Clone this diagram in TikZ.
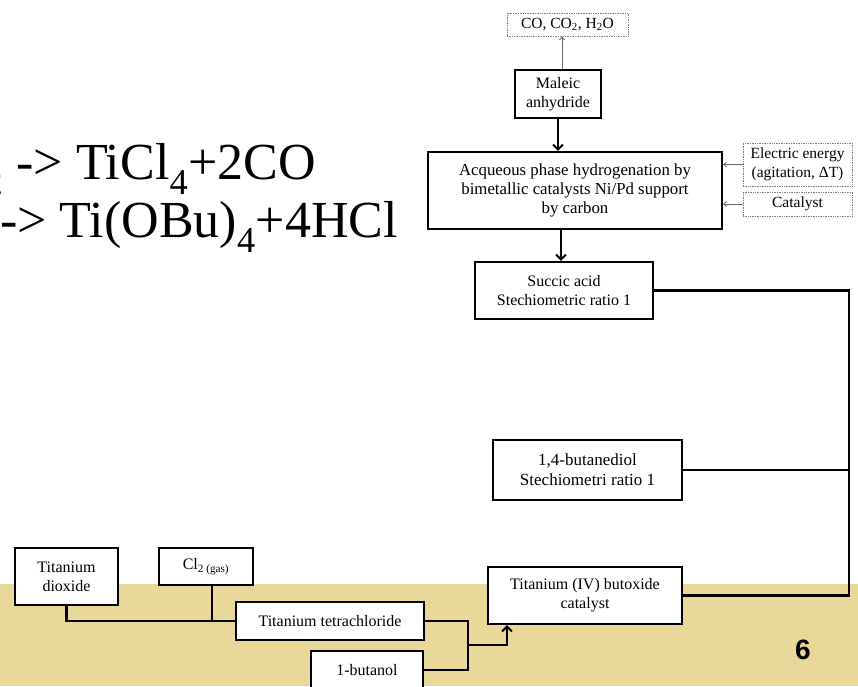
\documentclass[tikz,border=0pt]{standalone}
\usepackage{fontspec}
\setmainfont{Liberation Serif}
\newfontfamily\numfont{Liberation Sans}
\usetikzlibrary{arrows.meta}
\definecolor{slidetan}{RGB}{232,217,155}
\begin{document}
\begin{tikzpicture}[x=1pt,y=-1pt,
 box/.style={draw=black, line width=2.1pt, fill=white, align=center, inner sep=0pt, font=\fontsize{16}{19}\selectfont},
 dbox/.style={draw=gray, densely dotted, line width=0.7pt, fill=white, align=center, inner sep=0pt, font=\fontsize{15.5}{19}\selectfont},
 conn/.style={line width=2.1pt, black},
 barrow/.style={conn, -{Straight Barb[length=5pt,width=10pt,line width=2pt]}},
 tarrow/.style={line width=0.8pt, gray!80!black, -{Straight Barb[length=3pt,width=5pt]}},
 eq/.style={font=\fontsize{52}{60}\selectfont, inner sep=0pt, anchor=base east}
]
\useasboundingbox (0,0) rectangle (858,686);
\fill[white] (0,0) rectangle (858,686);
\fill[slidetan] (0,584) rectangle (858,686);

% equations (partly cut at the left edge)
\node[eq] (eq1) at (316,179) {\textsubscript{2} -> TiCl\textsubscript{4}+2CO};
\node[eq] (eq2) at (398,237) {-> Ti(OBu)\textsubscript{4}+4HCl};

% upper chain
\node[dbox, minimum width=121, minimum height=23] (co) at (567.5,24.5) {CO, CO\textsubscript{2}, H\textsubscript{2}O};
\node[box, minimum width=86, minimum height=48] (maleic) at (558,94) {Maleic\\anhydride};
\node[box, minimum width=294, minimum height=77, font=\fontsize{16.8}{19}\selectfont] (hydro) at (575,190.5) {Acqueous phase hydrogenation by\\bimetallic catalysts Ni/Pd support\\by carbon};
\node[dbox, minimum width=109, minimum height=43] (elec) at (797.5,164.5) {Electric energy\\(agitation, ΔT)};
\node[dbox, minimum width=109, minimum height=24] (cat) at (797.5,204) {Catalyst};
\node[box, minimum width=178, minimum height=57] (succ) at (564,290.5) {Succic acid\\Stechiometric ratio 1};
\node[box, minimum width=189, minimum height=60, font=\fontsize{17}{20}\selectfont] (bdo) at (587.5,470) {1,4-butanediol\\Stechiometri ratio 1};
\node[box, minimum width=194, minimum height=57] (tbo) at (585,595.5) {Titanium (IV) butoxide\\catalyst};

% lower chain
\node[box, minimum width=103, minimum height=57] (tio2) at (66.5,576.5) {Titanium\\dioxide};
\node[box, minimum width=94, minimum height=37] (cl2) at (206,566.5) {Cl\textsubscript{2 (gas)}};
\node[box, minimum width=188, minimum height=38] (ticl4) at (330,621) {Titanium tetrachloride};
\node[box, minimum width=112, minimum height=38] (buoh) at (367,670) {1-butanol};

\node[font=\numfont\bfseries\fontsize{28}{30}\selectfont, inner sep=0pt] (pg) at (803,650) {6};

% connectors upper
\draw[tarrow] ([xshift=4pt]maleic.north) -- ([xshift=4pt]maleic.north |- co.south);
\draw[barrow] (maleic.south) -- (maleic.south |- hydro.north);
\draw[tarrow] (elec.west) -- (elec.west -| hydro.east);
\draw[tarrow] (cat.west) -- (cat.west -| hydro.east);
\draw[barrow] (hydro.south -| 561,0) -- (succ.north -| 561,0);

\coordinate (rc) at (849,281);
\draw[conn] (succ.east) -- (succ.east -| rc) -- (tbo.east -| rc) -- (tbo.east);
\draw[conn] (bdo.east) -- (bdo.east -| rc);

% connectors lower
\draw[conn] (tio2.south) |- (ticl4.west);
\draw[conn] ([xshift=6pt]cl2.south) -- ([xshift=6pt]cl2.south |- ticl4.west);
\coordinate (jn) at (468,645);
\draw[conn] (ticl4.east) -| (jn) |- (buoh.east);
\draw[barrow] (jn) -| ([xshift=-78pt]tbo.south);
\end{tikzpicture}
\end{document}
